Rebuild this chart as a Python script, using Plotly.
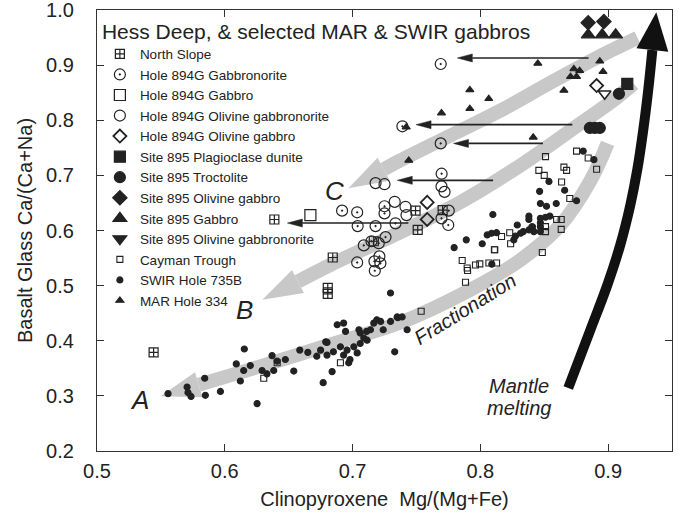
import numpy as np
import plotly.graph_objects as go

# ---------------------------------------------------------------- data
north_slope_x = [0.7493, 0.751, 0.7166, 0.6845, 0.6806, 0.6806, 0.6388, 0.5443, 0.7705]
north_slope_y = [0.636, 0.601, 0.5805, 0.551, 0.496, 0.485, 0.620, 0.379, 0.637]

h894_gabbronorite_x = [0.769, 0.739, 0.769, 0.7697, 0.6918, 0.7036, 0.725, 0.725, 0.704, 0.718,
                       0.7336, 0.7258, 0.7753, 0.7696, 0.7749, 0.7088, 0.7148, 0.7205, 0.721,
                       0.7171, 0.7036, 0.7174, 0.7218]
h894_gabbronorite_y = [0.902, 0.789, 0.758, 0.703, 0.636, 0.633, 0.644, 0.631, 0.608, 0.608,
                       0.613, 0.588, 0.636, 0.622, 0.610, 0.573, 0.5805, 0.577, 0.553,
                       0.544, 0.542, 0.527, 0.5405]

h894_gabbro_x = [0.667]
h894_gabbro_y = [0.628]

h894_ol_gabbronorite_x = [0.718, 0.725, 0.733, 0.7414, 0.7422, 0.7696, 0.772]
h894_ol_gabbronorite_y = [0.686, 0.684, 0.652, 0.643, 0.628, 0.680, 0.670]

h894_ol_gabbro_x = [0.7584, 0.7584, 0.891]
h894_ol_gabbro_y = [0.651, 0.620, 0.863]

s895_plag_dunite_x = [0.915]
s895_plag_dunite_y = [0.866]

s895_troctolite_x = [0.9085, 0.8857, 0.8896, 0.8935]
s895_troctolite_y = [0.848, 0.786, 0.786, 0.786]

s895_ol_gabbro_x = [0.8844, 0.8967]
s895_ol_gabbro_y = [0.977, 0.979]

s895_gabbro_x = [0.8844, 0.8954, 0.9059]
s895_gabbro_y = [0.955, 0.955, 0.955]

s895_ol_gabbronorite_x = [0.8973]
s895_ol_gabbronorite_y = [0.848]

cayman_x = [0.851, 0.8753, 0.8844, 0.891, 0.8458, 0.850, 0.8654, 0.8675, 0.8636, 0.870,
            0.8597, 0.8633, 0.8633, 0.851, 0.851, 0.823, 0.8166, 0.8237, 0.8113, 0.8485,
            0.7858, 0.7897, 0.7962, 0.7996, 0.8067, 0.8127, 0.7884, 0.8406, 0.790, 0.811,
            0.7537, 0.6305, 0.641, 0.6905]
cayman_y = [0.734, 0.744, 0.7315, 0.711, 0.709, 0.700, 0.715, 0.709, 0.688, 0.658,
            0.620, 0.620, 0.602, 0.607, 0.598, 0.596, 0.589, 0.576, 0.565, 0.560,
            0.5455, 0.532, 0.5375, 0.5395, 0.541, 0.541, 0.506, 0.604, 0.5275, 0.565,
            0.4534, 0.332, 0.360, 0.360]

swir_x = [0.5556, 0.5705, 0.5712, 0.5736, 0.5848, 0.5843, 0.5966, 0.6122, 0.6253, 0.6153,
          0.609, 0.6148, 0.620, 0.6292, 0.633, 0.6383, 0.637, 0.6474, 0.641, 0.654,
          0.6587, 0.665, 0.677, 0.684, 0.675, 0.679, 0.672, 0.680, 0.685, 0.6905,
          0.6957, 0.701, 0.706, 0.693, 0.698, 0.697, 0.7036, 0.7088, 0.706, 0.7114,
          0.688, 0.693, 0.6945, 0.680, 0.705, 0.714, 0.7166, 0.719, 0.722, 0.724,
          0.7297, 0.7354, 0.733, 0.711, 0.7297, 0.7388, 0.7349, 0.7427, 0.7795, 0.789,
          0.8015, 0.809, 0.8805, 0.8889, 0.8537, 0.866, 0.8464, 0.8753, 0.8594, 0.847,
          0.8518, 0.8098, 0.838, 0.838, 0.847, 0.851, 0.8544, 0.847, 0.847, 0.8406,
          0.8289, 0.838, 0.8419, 0.847, 0.8336, 0.8315, 0.8275, 0.8262, 0.8054, 0.8088,
          0.8127]
swir_y = [0.304, 0.316, 0.306, 0.299, 0.301, 0.332, 0.308, 0.327, 0.286, 0.385,
          0.358, 0.346, 0.355, 0.346, 0.340, 0.346, 0.373, 0.366, 0.363, 0.345,
          0.383, 0.379, 0.324, 0.344, 0.383, 0.398, 0.372, 0.374, 0.380, 0.389,
          0.383, 0.389, 0.395, 0.374, 0.366, 0.360, 0.378, 0.405, 0.414, 0.401,
          0.429, 0.432, 0.417, 0.397, 0.420, 0.420, 0.432, 0.438, 0.435, 0.420,
          0.435, 0.442, 0.380, 0.417, 0.4866, 0.4432, 0.4432, 0.420, 0.569, 0.583,
          0.576, 0.539, 0.744, 0.7285, 0.689, 0.673, 0.671, 0.654, 0.649, 0.649,
          0.644, 0.629, 0.626, 0.620, 0.622, 0.624, 0.626, 0.614, 0.607, 0.607,
          0.610, 0.601, 0.598, 0.598, 0.598, 0.595, 0.590, 0.583, 0.592, 0.595,
          0.596]

mar_x = [0.845, 0.8935, 0.896, 0.8732, 0.8777, 0.8706, 0.8753, 0.8654, 0.7918, 0.8066,
         0.7696, 0.7918, 0.8414, 0.744, 0.742]
mar_y = [0.903, 0.907, 0.888, 0.893, 0.890, 0.879, 0.879, 0.854, 0.855, 0.839,
         0.813, 0.821, 0.769, 0.727, 0.7875]

# cpx Mg# shifts (start -> end) at constant glass Ca/(Ca+Na)
shift_y = [0.913, 0.792, 0.758, 0.691, 0.6135]
shift_from_x = [0.8847, 0.872, 0.849, 0.810, 0.7437]
shift_to_x = [0.782, 0.7497, 0.779, 0.735, 0.649]

# fractionation trends A, B, C (listed from arrow tip upward)
trend_a_x = [0.5496, 0.620, 0.6827, 0.7375, 0.7923, 0.8315, 0.8628, 0.8863, 0.8996]
trend_a_y = [0.2993, 0.348, 0.3932, 0.433, 0.4926, 0.5468, 0.610, 0.691, 0.758]
trend_b_x = [0.6294, 0.6827, 0.7375, 0.7845, 0.8315, 0.8706, 0.9058, 0.920]
trend_b_y = [0.4745, 0.5377, 0.597, 0.6515, 0.7183, 0.7815, 0.8393, 0.8664]
trend_c_x = [0.6968, 0.7375, 0.7767, 0.8158, 0.855, 0.8942, 0.923]
trend_c_y = [0.6768, 0.7273, 0.7725, 0.8176, 0.8682, 0.917, 0.9494]

# mantle melting path (bottom to arrow tip)
melt_x = [0.8688, 0.8861, 0.8994, 0.9095, 0.9174, 0.9228, 0.9275, 0.9314, 0.9377]
melt_y = [0.3143, 0.4195, 0.5011, 0.5737, 0.6463, 0.7098, 0.7823, 0.8549, 0.996]

y_ticks = [0.2, 0.3, 0.4, 0.5, 0.6, 0.7, 0.8, 0.9, 1.0]
x_ticks = [0.5, 0.6, 0.7, 0.8, 0.9]

# ---------------------------------------------------------------- geometry
W, H = 679, 519
M_L, M_R, M_T, M_B = 97, 7, 10, 68
X_RANGE = (0.5, 0.95)
Y_RANGE = (0.2, 1.0)
PW, PH = W - M_L - M_R, H - M_T - M_B


def to_px(x, y):
    return np.array([(x - X_RANGE[0]) / (X_RANGE[1] - X_RANGE[0]) * PW,
                     (y - Y_RANGE[0]) / (Y_RANGE[1] - Y_RANGE[0]) * PH])


def to_data(p):
    return (X_RANGE[0] + p[0] / PW * (X_RANGE[1] - X_RANGE[0]),
            Y_RANGE[0] + p[1] / PH * (Y_RANGE[1] - Y_RANGE[0]))


def head_polygon(tip, back, length, half_w):
    """Triangle with apex at tip pointing away from back (pixel space)."""
    u = (tip - back) / np.linalg.norm(tip - back)
    n = np.array([-u[1], u[0]])
    base = tip - u * length
    pts = [tip, base + n * half_w, base - n * half_w, tip]
    xs, ys = zip(*[to_data(p) for p in pts])
    return list(xs), list(ys), base


fig = go.Figure()

# wide grey fractionation trend arrows
BAND_GREY = "#c8c8c8"
for tx, ty in [(trend_a_x, trend_a_y), (trend_b_x, trend_b_y), (trend_c_x, trend_c_y)]:
    pts = [to_px(x, y) for x, y in zip(tx, ty)]
    hx, hy, base = head_polygon(pts[0], pts[1], 40, 13)
    lx, ly = zip(*[to_data(p) for p in [base] + pts[1:]])
    fig.add_trace(go.Scatter(x=list(lx), y=list(ly), mode="lines", showlegend=False,
                             hoverinfo="skip",
                             line=dict(color=BAND_GREY, width=14, shape="spline")))
    fig.add_trace(go.Scatter(x=hx, y=hy, mode="lines", fill="toself", fillcolor=BAND_GREY,
                             line=dict(width=0, color=BAND_GREY), showlegend=False,
                             hoverinfo="skip"))

# black mantle-melting arrow
pts = [to_px(x, y) for x, y in zip(melt_x, melt_y)]
hx, hy, base = head_polygon(pts[-1], pts[-2], 38, 16)
lx, ly = zip(*[to_data(p) for p in pts[:-1] + [base]])
fig.add_trace(go.Scatter(x=list(lx), y=list(ly), mode="lines", showlegend=False,
                         hoverinfo="skip", line=dict(color="#111", width=10, shape="spline")))
fig.add_trace(go.Scatter(x=hx, y=hy, mode="lines", fill="toself", fillcolor="#111",
                         line=dict(width=0, color="#111"), showlegend=False, hoverinfo="skip"))

# thin shift arrows
line_x, line_y, head_x, head_y = [], [], [], []
for y, x0, x1 in zip(shift_y, shift_from_x, shift_to_x):
    tip = to_px(x1, y)
    back = to_px(x0, y)
    hx, hy, base = head_polygon(tip, back, 15, 4)
    bx, by = to_data(base)
    line_x += [x0, bx, None]
    line_y += [y, by, None]
    head_x += hx + [None]
    head_y += hy + [None]
fig.add_trace(go.Scatter(x=line_x, y=line_y, mode="lines", showlegend=False, hoverinfo="skip",
                         line=dict(color="#222", width=1.6)))
fig.add_trace(go.Scatter(x=head_x, y=head_y, mode="lines", fill="toself", fillcolor="#222",
                         line=dict(width=0.5, color="#222"), showlegend=False, hoverinfo="skip"))

INK = "#222"


def add_series(name, xs, ys, symbol, size, lw=1.2, legend=True, group=None):
    fig.add_trace(go.Scatter(
        x=xs, y=ys, mode="markers", name=name, showlegend=legend,
        legendgroup=group or name,
        marker=dict(symbol=symbol, size=size, color=INK,
                    line=dict(width=lw, color=INK))))


add_series("North Slope", north_slope_x, north_slope_y, "square-cross-open", 9)
add_series("Hole 894G Gabbronorite", h894_gabbronorite_x, h894_gabbronorite_y,
           "circle-open-dot", 11)
add_series("Hole 894G Gabbro", h894_gabbro_x, h894_gabbro_y, "square-open", 11)
add_series("Hole 894G Olivine gabbronorite", h894_ol_gabbronorite_x, h894_ol_gabbronorite_y,
           "circle-open", 11)
add_series("Hole 894G Olivine gabbro", h894_ol_gabbro_x, h894_ol_gabbro_y, "diamond-open", 10,
           lw=1.8)
add_series("Site 895 Plagioclase dunite", s895_plag_dunite_x, s895_plag_dunite_y, "square", 11)
add_series("Site 895 Troctolite", s895_troctolite_x, s895_troctolite_y, "circle", 11)
add_series("Site 895 Olivine gabbro", s895_ol_gabbro_x, s895_ol_gabbro_y, "diamond", 11)
add_series("Site 895 Gabbro", s895_gabbro_x, s895_gabbro_y, "triangle-up", 12)
# legend key uses the filled symbol, the sample itself is plotted open
add_series("Site 895 Olivine gabbronorite", [None], [None], "triangle-down", 12,
           group="s895ogn")
add_series("Site 895 Olivine gabbronorite", s895_ol_gabbronorite_x, s895_ol_gabbronorite_y,
           "triangle-down-open", 11, lw=1.6, legend=False, group="s895ogn")
add_series("Cayman Trough", cayman_x, cayman_y, "square-open", 6, lw=1.1)
add_series("SWIR Hole 735B", swir_x, swir_y, "circle", 6)
add_series("MAR Hole 334", mar_x, mar_y, "triangle-up", 7)

# in-plot labels
FONT = "Liberation Sans, Arial, Helvetica, sans-serif"
labels = [
    ("A", 0.5329, 0.2925, 26, 0),
    ("B", 0.6158, 0.4558, 26, 0),
    ("C", 0.6855, 0.6717, 26, 0),
    ("Fractionation", 0.7880, 0.4585, 20, -32),
    ("Mantle", 0.8302, 0.3179, 20, 0),
    ("melting", 0.8302, 0.2780, 20, 0),
]
for text, x, y, size, ang in labels:
    fig.add_annotation(x=x, y=y, xref="x", yref="y", text=f"<i>{text}</i>", showarrow=False,
                       textangle=ang, font=dict(family=FONT, size=size, color=INK))

axis_common = dict(
    showgrid=False, zeroline=False, showline=True, linecolor="#333", linewidth=1.3,
    mirror="ticks", ticks="inside", ticklen=7, tickwidth=1.3, tickcolor="#333",
    tickfont=dict(family=FONT, size=20, color=INK), tickformat=".1f",
    ticklabeloverflow="allow",
)
fig.update_xaxes(range=list(X_RANGE), tickvals=x_ticks, ticklabelstandoff=2,
                 title=dict(text="Clinopyroxene\u00a0 Mg/(Mg+Fe)", standoff=10,
                            font=dict(family=FONT, size=20, color=INK)),
                 **axis_common)
fig.update_yaxes(range=list(Y_RANGE), tickvals=y_ticks, ticklabelstandoff=18,
                 title=dict(text="Basalt Glass Ca/(Ca+Na)", standoff=8,
                            font=dict(family=FONT, size=20, color=INK)),
                 **axis_common)

fig.update_layout(
    width=W, height=H,
    margin=dict(l=M_L, r=M_R, t=M_T, b=M_B, autoexpand=False),
    paper_bgcolor="white", plot_bgcolor="white",
    font=dict(family=FONT, color=INK),
    legend=dict(x=0.005, y=0.997, xanchor="left", yanchor="top", bgcolor="rgba(0,0,0,0)",
                font=dict(family=FONT, size=13.5, color=INK), itemsizing="trace",
                tracegroupgap=0, itemwidth=30,
                title=dict(text="Hess Deep, & selected MAR & SWIR gabbros",
                           font=dict(family=FONT, size=21, color=INK))),
)

fig.write_html("out.html")
